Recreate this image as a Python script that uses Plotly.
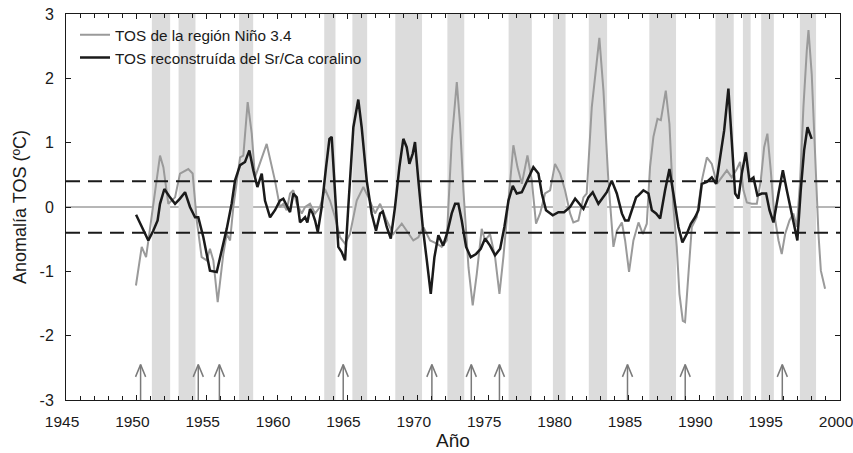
import plotly.graph_objects as go

# Niño 3.4 SST anomaly (°C)
nino_year = [1949.97, 1950.38, 1950.69, 1950.85, 1951.2, 1951.68, 1951.92, 1952.27, 1952.75, 1953.1,
             1953.69, 1954.0, 1954.29, 1954.64, 1955.0, 1955.23, 1955.47, 1955.78, 1956.18, 1956.42,
             1956.66, 1956.89, 1957.37, 1957.6, 1957.91, 1958.2, 1958.43, 1959.26, 1959.85, 1960.2,
             1960.44, 1960.68, 1960.92, 1961.15, 1961.4, 1961.75, 1961.99, 1962.34, 1962.7, 1963.05,
             1963.4, 1963.76, 1964.12, 1964.47, 1964.83, 1965.18, 1965.66, 1966.13, 1966.49, 1966.96,
             1967.32, 1967.79, 1968.26, 1968.86, 1969.21, 1969.68, 1970.04, 1970.39, 1970.87, 1971.35,
             1971.7, 1972.06, 1972.17, 1972.41, 1972.77, 1973.0, 1973.24, 1973.6, 1973.9, 1974.19,
             1974.54, 1974.78, 1975.13, 1975.49, 1975.8, 1976.08, 1976.44, 1976.79, 1977.08, 1977.39,
             1977.79, 1978.1, 1978.4, 1978.69, 1979.04, 1979.4, 1979.75, 1980.11, 1980.46, 1980.82,
             1981.05, 1981.41, 1981.77, 1982.0, 1982.36, 1982.71, 1982.9, 1983.19, 1983.54, 1983.9,
             1984.14, 1984.5, 1984.73, 1985.01, 1985.32, 1985.68, 1985.99, 1986.27, 1986.5, 1986.74,
             1987.03, 1987.27, 1987.62, 1987.88, 1988.16, 1988.4, 1988.59, 1988.83, 1988.99, 1989.23,
             1989.47, 1989.82, 1990.18, 1990.54, 1990.89, 1991.25, 1991.6, 1991.96, 1992.31, 1992.67,
             1992.9, 1993.14, 1993.38, 1993.73, 1994.09, 1994.37, 1994.61, 1994.84, 1995.08, 1995.32,
             1995.63, 1995.86, 1996.1, 1996.41, 1996.69, 1996.93, 1997.17, 1997.4, 1997.64, 1997.76,
             1997.99, 1998.23, 1998.47, 1998.64, 1998.94]
nino_sst = [-1.22, -0.62, -0.78, -0.52, 0.10, 0.80, 0.62, 0.05, 0.15, 0.52,
            0.59, 0.52, -0.21, -0.78, -0.83, -0.65, -0.83, -1.48, -0.73, -0.42,
            -0.52, 0.0, 0.77, 0.80, 1.63, 1.14, 0.46, 0.98, 0.41, 0.0,
            0.05, -0.05, 0.21, 0.26, 0.05, -0.10, 0.0, 0.05, -0.10, 0.0,
            0.28, 0.10, -0.16, -0.47, -0.57, -0.42, 0.10, 0.31, 0.15, -0.10,
            0.05, -0.21, -0.42, -0.26, -0.37, -0.52, -0.47, -0.31, -0.52, -0.57,
            -0.62, -0.52, 0.0, 1.03, 1.94, 1.29, 0.26, -0.94, -1.53, -1.04,
            -0.34, -0.52, -0.42, -0.78, -1.35, -0.78, 0.10, 0.96, 0.62, 0.36,
            0.80, 0.41, -0.26, -0.10, 0.21, 0.26, 0.67, 0.52, 0.26, -0.10,
            -0.24, -0.21, 0.15, 0.21, 1.55, 2.28, 2.63, 1.81, 0.41, -0.62,
            -0.37, -0.24, -0.52, -1.01, -0.52, -0.24, -0.42, -0.26, 0.62, 1.09,
            1.37, 1.35, 1.81, 1.29, 0.0, -0.62, -1.35, -1.77, -1.79, -1.04,
            -0.31, -0.16, 0.41, 0.77, 0.67, 0.36, 0.46, 0.57, 0.46, 0.59,
            0.70, 0.26, 0.07, 0.05, 0.05, 0.41, 0.93, 1.14, 0.57, -0.10,
            -0.52, -0.73, -0.42, -0.21, -0.10, -0.31, 0.41, 1.55, 2.43, 2.75,
            2.07, 0.88, -0.42, -0.99, -1.27]

# SST reconstructed from coral Sr/Ca (°C)
coral_year = [1949.98, 1950.38, 1950.85, 1951.2, 1951.51, 1951.68, 1951.99, 1952.39, 1952.75, 1953.1,
              1953.46, 1953.81, 1954.17, 1954.4, 1954.76, 1955.23, 1955.71, 1956.06, 1956.42, 1956.77,
              1957.01, 1957.37, 1957.72, 1958.03, 1958.31, 1958.6, 1958.91, 1959.14, 1959.5, 1959.85,
              1960.2, 1960.44, 1960.64, 1960.92, 1961.15, 1961.4, 1961.63, 1961.99, 1962.15, 1962.34,
              1962.53, 1962.7, 1962.89, 1963.17, 1963.48, 1963.72, 1963.88, 1964.12, 1964.35, 1964.59,
              1964.83, 1965.06, 1965.42, 1965.77, 1966.01, 1966.37, 1966.72, 1967.03, 1967.32, 1967.51,
              1967.79, 1968.08, 1968.38, 1968.69, 1968.97, 1969.21, 1969.4, 1969.64, 1969.8, 1970.04,
              1970.35, 1970.64, 1970.92, 1971.18, 1971.46, 1971.8, 1972.1, 1972.41, 1972.65, 1972.88,
              1973.12, 1973.43, 1973.76, 1974.14, 1974.47, 1974.78, 1975.13, 1975.49, 1975.85, 1976.15,
              1976.44, 1976.75, 1977.03, 1977.39, 1977.74, 1978.21, 1978.57, 1978.81, 1979.11, 1979.59,
              1979.99, 1980.39, 1980.82, 1981.18, 1981.48, 1981.77, 1982.12, 1982.43, 1982.83, 1983.19,
              1983.43, 1983.78, 1984.14, 1984.5, 1984.73, 1984.97, 1985.28, 1985.51, 1985.68, 1986.03,
              1986.39, 1986.63, 1986.93, 1987.22, 1987.57, 1987.88, 1988.16, 1988.52, 1988.8, 1989.11,
              1989.4, 1989.7, 1989.94, 1990.18, 1990.54, 1990.89, 1991.2, 1991.48, 1991.77, 1992.07,
              1992.31, 1992.55, 1992.78, 1993.02, 1993.31, 1993.56, 1993.85, 1994.13, 1994.44, 1994.75,
              1994.99, 1995.27, 1995.63, 1995.94, 1996.22, 1996.5, 1996.74, 1996.97, 1997.21, 1997.45,
              1997.69, 1997.83, 1997.99]
coral_sst = [-0.12, -0.31, -0.52, -0.37, -0.21, 0.05, 0.28, 0.15, 0.05, 0.13,
             0.23, 0.0, -0.16, -0.16, -0.47, -0.99, -1.01, -0.68, -0.34, 0.05,
             0.41, 0.65, 0.70, 0.88, 0.57, 0.31, 0.52, 0.10, -0.16, -0.05,
             0.10, 0.13, 0.05, -0.08, 0.21, 0.15, -0.24, -0.16, -0.24, -0.03,
             -0.10, -0.21, -0.39, 0.0, 0.62, 1.06, 1.09, 0.15, -0.62, -0.70,
             -0.83, 0.0, 1.24, 1.67, 1.24, 0.41, -0.10, -0.37, -0.10, -0.07,
             -0.31, -0.49, 0.0, 0.62, 1.06, 0.93, 0.67, 0.83, 1.01, 0.41,
             -0.31, -0.83, -1.35, -0.78, -0.44, -0.60, -0.39, -0.10, 0.05, 0.05,
             -0.21, -0.62, -0.78, -0.73, -0.65, -0.49, -0.60, -0.75, -0.65, -0.31,
             0.10, 0.33, 0.21, 0.23, 0.39, 0.62, 0.52, 0.21, -0.05, -0.13,
             -0.08, -0.08, 0.0, 0.13, 0.05, -0.03, 0.15, 0.23, 0.05, 0.15,
             0.23, 0.41, 0.21, -0.10, -0.21, -0.21, 0.0, 0.15, 0.18, 0.26,
             0.21, -0.05, -0.10, -0.18, 0.26, 0.59, 0.21, -0.31, -0.55, -0.42,
             -0.26, -0.16, -0.05, 0.36, 0.39, 0.46, 0.36, 0.77, 1.19, 1.84,
             1.09, 0.21, 0.13, 0.52, 0.85, 0.41, 0.46, 0.18, 0.21, 0.21,
             -0.05, -0.24, 0.21, 0.57, 0.26, -0.03, -0.26, -0.52, 0.26, 0.88,
             1.24, 1.14, 1.06]

# El Niño periods (start, end)
nino_start = [1951.1, 1953.0, 1957.3, 1963.35, 1965.35, 1968.4, 1972.1, 1976.45, 1979.6,
              1982.15, 1986.45, 1991.15, 1993.1, 1994.4, 1997.15]
nino_end = [1952.4, 1954.2, 1958.3, 1964.15, 1966.4, 1970.3, 1973.3, 1978.1, 1980.5,
            1983.45, 1988.35, 1992.45, 1993.65, 1995.3, 1998.3]

# Marked years
marker_years = [1950.3, 1954.4, 1955.9, 1964.7, 1971.0, 1973.8, 1975.8, 1984.9, 1989.0, 1995.9]

# Axis ticks and labels
x_ticks = [1945, 1950, 1955, 1960, 1965, 1970, 1975, 1980, 1985, 1990, 1995, 2000]
x_tick_labels = ["1945", "1950", "1955", "1960", "1965", "1970", "1975", "1980", "1985",
                 "1990", "1995", "2000"]
y_ticks = [-3, -2, -1, 0, 1, 2, 3]
y_tick_labels = ["-3", "-2", "-1", "0", "1", "2", "3"]

threshold = 0.4
ymin, ymax = -3, 3
arrow_tip = -2.45

FONT = "Liberation Sans, Arial, sans-serif"

fig = go.Figure()

# shaded El Niño periods
for s, e in zip(nino_start, nino_end):
    fig.add_shape(type="rect", xref="x", yref="y", x0=s, x1=e, y0=ymin, y1=ymax,
                  fillcolor="#dcdcdc", line_width=0, layer="below")

# zero line and ±threshold lines
fig.add_shape(type="line", xref="paper", yref="y", x0=0, x1=1, y0=0, y1=0,
              line=dict(color="#6e6e6e", width=1), layer="below")
for t in (threshold, -threshold):
    fig.add_shape(type="line", xref="paper", yref="y", x0=0, x1=1, y0=t, y1=t,
                  line=dict(color="#1a1a1a", width=2.2, dash="14px,8px"), layer="above")

# arrows
ax, ay = [], []
dx, dy = 0.36, 0.19
for yr in marker_years:
    ax += [yr, yr, None, yr - dx, yr, yr + dx, None]
    ay += [ymin, arrow_tip, None, arrow_tip - dy, arrow_tip, arrow_tip - dy, None]
fig.add_trace(go.Scatter(x=ax, y=ay, mode="lines", line=dict(color="#7a7a7a", width=1.5),
                         showlegend=False, hoverinfo="skip"))

fig.add_trace(go.Scatter(x=nino_year, y=nino_sst, mode="lines",
                         line=dict(color="#9a9a9a", width=2),
                         name="TOS de la región Niño 3.4"))
fig.add_trace(go.Scatter(x=coral_year, y=coral_sst, mode="lines",
                         line=dict(color="#1a1a1a", width=2.5),
                         name="TOS reconstruída del Sr/Ca coralino"))

fig.update_layout(
    width=853, height=453,
    margin=dict(l=66, r=13, t=14, b=53),
    plot_bgcolor="white", paper_bgcolor="white",
    font=dict(family=FONT, color="#1a1a1a", size=15),
    showlegend=True,
    legend=dict(x=9 / 774, y=0.989, xanchor="left", yanchor="top",
                bgcolor="rgba(0,0,0,0)", font=dict(size=15.3, color="#1a1a1a"),
                tracegroupgap=0, itemwidth=30),
    xaxis=dict(range=[1945, 2000], tickmode="array", tickvals=x_ticks, ticktext=x_tick_labels,
               ticks="inside", ticklen=5, automargin=False, ticklabeloverflow="allow",
               tickcolor="#1a1a1a", showline=True, linecolor="#1a1a1a", linewidth=1,
               mirror="ticks", showgrid=False, zeroline=False,
               minor=dict(dtick=1, tick0=1945, ticks="inside", ticklen=4, tickcolor="#1a1a1a"),
               tickfont=dict(size=15.5), ticklabelstandoff=7, ticklabelshift=-4,
               title=dict(text="Año", font=dict(size=19), standoff=2)),
    yaxis=dict(range=[ymin, ymax], tickmode="array", tickvals=y_ticks, ticktext=y_tick_labels,
               ticks="inside", ticklen=5, automargin=False,
               tickcolor="#1a1a1a", showline=True, linecolor="#1a1a1a", linewidth=1,
               mirror="ticks", showgrid=False, zeroline=False,
               tickfont=dict(size=16), ticklabelstandoff=8,
               title=dict(text="Anomalía TOS (ºC)", font=dict(size=18), standoff=8)),
)

fig.write_html("out.html")
